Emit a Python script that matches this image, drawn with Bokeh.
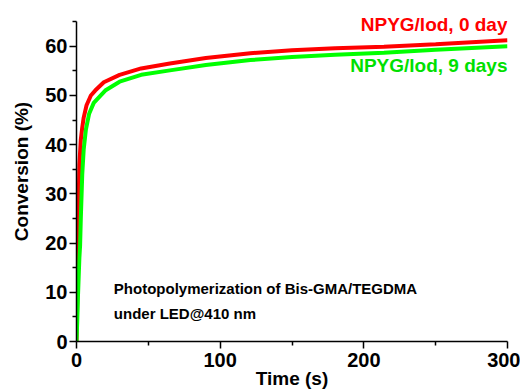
from bokeh.plotting import figure
from bokeh.models import Range1d, Label, FixedTicker
from bokeh.embed import file_html
from bokeh.resources import INLINE

# data
t_red = [0, 0.5, 1, 1.5, 2, 3, 4, 5, 7, 10, 13, 19, 30, 45, 65, 90, 121, 150, 180, 214, 250, 300]
y_red = [0, 8, 18, 28, 36, 41, 43.5, 45.5, 48, 50, 51, 52.7, 54.2, 55.5, 56.5, 57.6, 58.6, 59.2, 59.6, 59.9, 60.4, 61.2]
t_green = [0, 0.5, 1, 1.5, 2, 2.5, 3, 4, 5, 6.5, 8.8, 12, 20, 30, 45, 65, 90, 121, 150, 180, 214, 250, 300]
y_green = [0, 4, 9, 13, 17, 19.5, 25, 34, 39, 43, 46.3, 48.5, 51, 52.8, 54.2, 55.1, 56.2, 57.2, 57.8, 58.3, 58.7, 59.3, 60.0]
x_ticks = [0, 100, 200, 300]
x_minor = [50, 150, 250]
y_ticks = [0, 10, 20, 30, 40, 50, 60]
y_minor = [5, 15, 25, 35, 45, 55, 65]
label_red = "NPYG/lod, 0 day"
label_green = "NPYG/lod, 9 days"
note1 = "Photopolymerization of Bis-GMA/TEGDMA"
note2 = "under LED@410 nm"

FONT = "Liberation Sans"

p = figure(width=520, height=391, output_backend="svg", toolbar_location=None,
           x_range=Range1d(0, 300), y_range=Range1d(0, 69.1),
           min_border_left=76, min_border_right=13, min_border_top=1, min_border_bottom=50)
p.outline_line_color = None
p.grid.visible = False
p.background_fill_color = "white"
p.border_fill_color = "white"

p.line(t_red, y_red, line_color="#FF0000", line_width=4)
p.line(t_green, y_green, line_color="#00FF00", line_width=4)

for ax in (p.xaxis[0], p.yaxis[0]):
    ax.axis_line_color = "black"
    ax.axis_line_width = 1.5
    ax.major_tick_line_color = "black"
    ax.minor_tick_line_color = "black"
    ax.major_tick_line_width = 1.5
    ax.minor_tick_line_width = 1.5
    ax.major_tick_out = 7
    ax.major_tick_in = 0
    ax.minor_tick_out = 4
    ax.minor_tick_in = 0
    ax.major_label_text_font = FONT
    ax.major_label_text_font_style = "bold"
    ax.major_label_text_font_size = "20px"
    ax.major_label_text_color = "black"
    ax.axis_label_text_font = FONT
    ax.axis_label_text_font_style = "bold"
    ax.axis_label_text_font_size = "19px"
    ax.axis_label_text_color = "black"

p.xaxis.ticker = FixedTicker(ticks=x_ticks, minor_ticks=x_minor)
p.yaxis.ticker = FixedTicker(ticks=y_ticks, minor_ticks=y_minor)
p.yaxis.bounds = (0, 65)
p.xaxis.axis_label = "Time (s)"
p.yaxis.axis_label = "Conversion (%)"
p.xaxis.major_label_standoff = 4
p.yaxis.major_label_standoff = 2
p.xaxis.axis_label_standoff = -2
p.yaxis.axis_label_standoff = 10

p.add_layout(Label(x=300, y=64.4, text=label_red, text_align="right", text_baseline="alphabetic",
                   text_color="#FF0000", text_font=FONT, text_font_style="bold", text_font_size="19px"))
p.add_layout(Label(x=300, y=56.1, text=label_green, text_align="right", text_baseline="alphabetic",
                   text_color="#00E000", text_font=FONT, text_font_style="bold", text_font_size="19px"))
p.add_layout(Label(x=26.0, y=10.7, text=note1, text_align="left", text_baseline="alphabetic",
                   text_color="black", text_font=FONT, text_font_style="bold", text_font_size="15px"))
p.add_layout(Label(x=26.0, y=5.6, text=note2, text_align="left", text_baseline="alphabetic",
                   text_color="black", text_font=FONT, text_font_style="bold", text_font_size="15px"))

open("out.html", "w").write(file_html(p, INLINE))
